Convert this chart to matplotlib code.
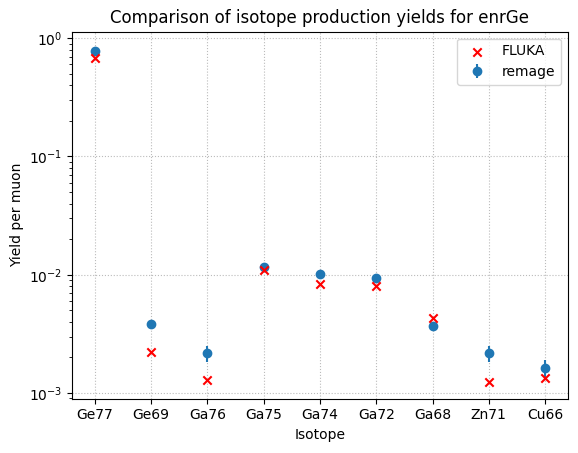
import matplotlib
matplotlib.use("Agg")
import matplotlib.pyplot as plt
import numpy as np

isotopes = ["Ge77", "Ge69", "Ga76", "Ga75", "Ga74", "Ga72", "Ga68", "Zn71", "Cu66"]
remage = [0.78, 0.00382, 0.00217, 0.0117, 0.0101, 0.0094, 0.00367, 0.00217, 0.00163]
remage_err = [0.04, 0.0003, 0.00033, 0.0007, 0.0006, 0.0006, 0.0003, 0.00033, 0.00028]
fluka = [0.68, 0.00224, 0.0013, 0.0109, 0.0084, 0.0081, 0.00434, 0.00124, 0.00135]

fig, ax = plt.subplots(figsize=(5.78, 4.53), dpi=100)
x = np.arange(len(isotopes))
ax.errorbar(x, remage, yerr=remage_err, fmt="o", color="#1f77b4", label="remage", zorder=3)
ax.scatter(x, fluka, marker="x", color="red", label="FLUKA", zorder=4)
ax.set_yscale("log")
ax.set_xticks(x)
ax.set_xticklabels(isotopes)
ax.set_xlabel("Isotope")
ax.set_ylabel("Yield per muon")
ax.set_title("Comparison of isotope production yields for enrGe")
ax.grid(True, which="major", linestyle=":", color="#bbbbbb")
ax.legend(loc="upper right")
fig.subplots_adjust(left=0.125, right=0.982, top=0.93, bottom=0.12)
fig.savefig("out.png")
